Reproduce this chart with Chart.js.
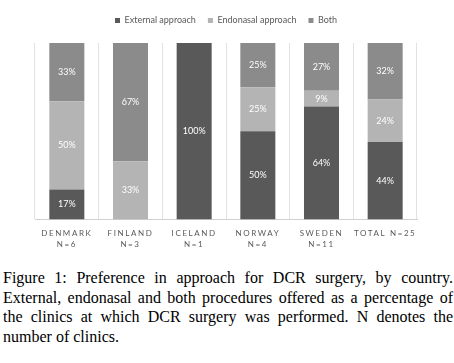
<!DOCTYPE html>
<html><head><meta charset="utf-8">
<script src="https://cdn.jsdelivr.net/npm/chart.js@4"></script>
<style>
html,body{margin:0;padding:0;background:#fff;width:454px;height:363px;overflow:hidden}
#wrap{position:absolute;left:0;top:0;width:454px;height:258px}
#cap{position:absolute;left:3px;top:268px;width:450px;font-family:"Liberation Serif",serif;font-size:16px;line-height:19.5px;text-align:justify;color:#000}
</style></head><body>
<div id="wrap"><canvas id="c"></canvas></div>
<div id="cap">Figure 1: Preference in approach for DCR surgery, by country. External, endonasal and both procedures offered as a percentage of the clinics at which DCR surgery was performed. N denotes the number of clinics.</div>
<script>
const categories = [["DENMARK","N=6"],["FINLAND","N=3"],["ICELAND","N=1"],["NORWAY","N=4"],["SWEDEN","N=11"],"TOTAL N=25"];
const seriesNames = ["External approach","Endonasal approach","Both"];
const externalVals = [17,0,100,50,64,44];
const endonasalVals = [50,33,0,25,9,24];
const bothVals = [33,67,0,25,27,32];
const colors = ["#595959","#b4b4b4","#8b8b8b"];

const labelPlugin = {
  id:'segLabels',
  beforeLayout(chart){
    const lg = chart.legend;
    if(lg && !lg._patched){
      const f = lg.fit;
      lg.fit = function(){ f.call(this); this.height += 8; };
      lg._patched = true;
    }
  },
  beforeDraw(chart){
    const sc = chart.scales.x;
    if(sc && !sc._patched){
      const orig = sc.drawLabels;
      sc.drawLabels = function(a){
        const ctx = this.ctx; ctx.save(); ctx.letterSpacing = '1.6px'; orig.call(this,a); ctx.restore();
      };
      sc._patched = true;
    }
  },
  afterDatasetsDraw(chart){
    const ctx = chart.ctx;
    ctx.save();
    ctx.font = '9px Lato';
    ctx.fillStyle = '#ffffff';
    ctx.textAlign = 'center';
    ctx.textBaseline = 'middle';
    chart.data.datasets.forEach((ds,di)=>{
      const meta = chart.getDatasetMeta(di);
      meta.data.forEach((el,i)=>{
        const v = ds.data[i];
        if(!v) return;
        ctx.fillText(v+'%', el.x, (el.y+el.base)/2);
      });
    });
    ctx.restore();
  }
};

new Chart(document.getElementById('c'),{
  type:'bar',
  data:{
    labels:categories,
    datasets:[
      {label:seriesNames[0],data:externalVals,backgroundColor:colors[0]},
      {label:seriesNames[1],data:endonasalVals,backgroundColor:colors[1]},
      {label:seriesNames[2],data:bothVals,backgroundColor:colors[2]}
    ]
  },
  options:{
    responsive:true,maintainAspectRatio:false,animation:false,
    devicePixelRatio:1,
    layout:{padding:{left:35,right:37,top:4,bottom:0}},
    datasets:{bar:{categoryPercentage:1,barPercentage:0.55}},
    plugins:{
      legend:{position:'top',labels:{font:{family:'Lato',size:9},color:'#595959',boxWidth:5,boxHeight:5,padding:12}},
      tooltip:{enabled:false}
    },
    scales:{
      x:{stacked:true,
        grid:{offset:true,color:'#e2e2e2',drawTicks:false},
        border:{color:'#d0d0d0'},
        ticks:{font:{family:'Lato',size:8,lineHeight:1.4},color:'#595959',padding:8,maxRotation:0,autoSkip:false}
      },
      y:{stacked:true,display:false,min:0,max:100}
    }
  },
  plugins:[labelPlugin]
});
</script>
</body></html>
